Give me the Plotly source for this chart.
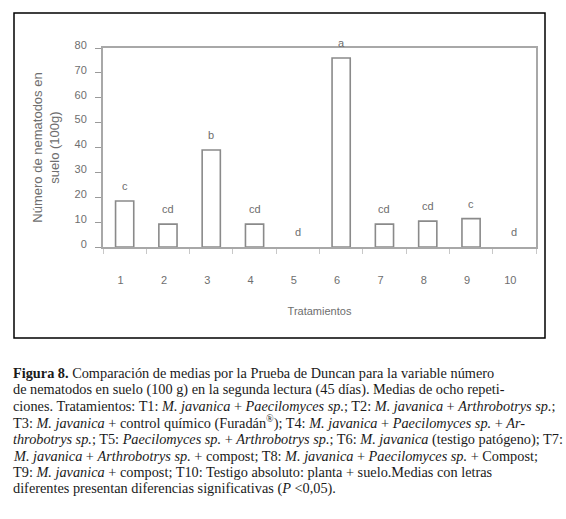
import plotly.graph_objects as go

# ---- data ----
treatments = ["1", "2", "3", "4", "5", "6", "7", "8", "9", "10"]
nematodes = [18.5, 9.2, 39.0, 9.2, 0.0, 76.0, 9.2, 10.4, 11.4, 0.0]
duncan_letters = ["c", "cd", "b", "cd", "d", "a", "cd", "cd", "c", "d"]
y_ticks = [0, 10, 20, 30, 40, 50, 60, 70, 80]

caption_lines = [
    "<b>Figura 8.</b> Comparación de medias por la Prueba de Duncan para la variable número",
    "de nematodos en suelo (100 g) en la segunda lectura (45 días). Medias de ocho repeti-",
    "ciones. Tratamientos: T1: <i>M. javanica</i> + <i>Paecilomyces sp.</i>; T2: <i>M. javanica</i> + <i>Arthrobotrys sp.</i>;",
    "T3: <i>M. javanica</i> + control químico (Furadán<sup>®</sup>); T4: <i>M. javanica</i> + <i>Paecilomyces sp.</i> + <i>Ar-</i>",
    "<i>throbotrys sp.</i>; T5: <i>Paecilomyces sp.</i> + <i>Arthrobotrys sp.</i>; T6: <i>M. javanica</i> (testigo patógeno); T7:",
    "<i>M. javanica</i> + <i>Arthrobotrys sp.</i> + compost; T8: <i>M. javanica</i> + <i>Paecilomyces sp.</i> + Compost;",
    "T9: <i>M. javanica</i> + compost; T10: Testigo absoluto: planta + suelo.Medias con letras",
    "diferentes presentan diferencias significativas (<i>P</i> &lt;0,05).",
]

# ---- layout geometry (pixels) ----
W, H = 566, 519
PL, PR, PT, PB = 103, 536, 48, 247
pw, ph = PR - PL, PB - PT

def px(x):
    return (x - PL) / pw

def py(y):
    return (PB - y) / ph

AX_FONT = "Liberation Sans, Arial, sans-serif"
GRAY_TXT = "#6e6e6e"

# zero-height bars are not outlined in the reference
outline_widths = [1.6 if v > 0 else 0 for v in nematodes]

fig = go.Figure()
fig.add_trace(go.Bar(
    x=treatments, y=nematodes, width=0.42,
    marker=dict(color="white", line=dict(color="#8a8a8a", width=outline_widths)),
    hoverinfo="x+y",
))

annotations = []
for i, (v, lab) in enumerate(zip(nematodes, duncan_letters)):
    annotations.append(dict(
        x=i, y=v, xref="x", yref="y", text=lab, showarrow=False,
        yanchor="middle", yshift=15,
        font=dict(family=AX_FONT, size=11, color=GRAY_TXT),
    ))

# caption
line_h = 16.5
for i, line in enumerate(caption_lines):
    annotations.append(dict(
        x=px(11), y=py(373 + i * line_h), xref="paper", yref="paper",
        xanchor="left", yanchor="middle", text=line, showarrow=False,
        font=dict(family="Liberation Serif, Times New Roman, serif", size=14.3, color="#1a1a1a"),
    ))

fig.update_layout(
    width=W, height=H,
    margin=dict(l=PL, r=W - PR, t=PT, b=H - PB, pad=0),
    paper_bgcolor="white", plot_bgcolor="white",
    showlegend=False,
    annotations=annotations,
    shapes=[dict(
        type="rect", xref="paper", yref="paper",
        x0=px(14), x1=px(545), y0=py(338), y1=py(13),
        line=dict(color="black", width=1.5), fillcolor="rgba(0,0,0,0)", layer="below",
    )],
    xaxis=dict(
        type="category", range=[-0.5, 9.5],
        showline=True, linecolor="#a8a8a8", linewidth=2, mirror=True,
        ticks="outside", tickson="boundaries", ticklen=5, tickcolor="#c8c8c8", tickwidth=1,
        showgrid=False, zeroline=False,
        tickfont=dict(family=AX_FONT, size=11, color=GRAY_TXT),
        ticklabelstandoff=22, ticklabelshift=-4,
        title=dict(text="Tratamientos", standoff=22,
                   font=dict(family=AX_FONT, size=11, color=GRAY_TXT)),
    ),
    yaxis=dict(
        range=[0, 80], tickvals=y_ticks, ticktext=[str(v) for v in y_ticks],
        showline=True, linecolor="#a8a8a8", linewidth=2, mirror=True,
        ticks="outside", ticklen=6, tickcolor="#9a9a9a", tickwidth=1,
        showgrid=False, zeroline=False,
        tickfont=dict(family=AX_FONT, size=11, color=GRAY_TXT),
        ticklabelshift=-3, ticklabelstandoff=6,
        title=dict(text="Número de nematodos en<br>suelo (100g)", standoff=12,
                   font=dict(family=AX_FONT, size=13, color=GRAY_TXT)),
    ),
)

fig.write_html("out.html", config={"displayModeBar": False},
               post_script="document.body.style.margin='0';")
